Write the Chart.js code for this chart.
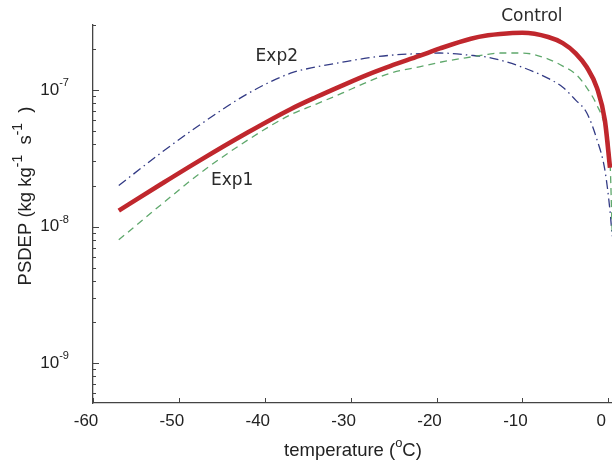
<!DOCTYPE html>
<html>
<head>
<meta charset="utf-8">
<script src="https://cdn.jsdelivr.net/npm/chart.js@4.4.1/dist/chart.umd.min.js"></script>
<style>
  html, body { margin: 0; padding: 0; background: #fff; overflow: hidden; }
  #wrap { width: 640px; height: 461px; }
</style>
</head>
<body>
<div id="wrap"><canvas id="chart" width="640" height="461"></canvas></div>
<script>
// temperature (°C) and PSDEP values
const temps   = [-57, -52, -47.5, -42, -37, -34, -31, -28, -25.4, -22, -19.6, -16, -14, -12.6, -10, -7, -5.3, -3.8, -2.5, -1.3, -0.4, 0.2, 0.45];
const control = [1.31e-8, 2.06e-8, 3.07e-8, 4.89e-8, 7.25e-8, 8.9e-8, 1.08e-7, 1.30e-7, 1.50e-7, 1.78e-7, 2.02e-7, 2.38e-7, 2.52e-7, 2.58e-7, 2.63e-7, 2.45e-7, 2.21e-7, 1.86e-7, 1.47e-7, 1.03e-7, 6.0e-8, 2.7e-8, null];
const exp1    = [8.0e-9, 1.46e-8, 2.47e-8, 4.3e-8, 6.6e-8, 7.9e-8, 9.5e-8, 1.15e-7, 1.33e-7, 1.48e-7, 1.6e-7, 1.75e-7, 1.83e-7, 1.87e-7, 1.87e-7, 1.69e-7, 1.50e-7, 1.31e-7, 1.04e-7, 7.7e-8, 5.4e-8, 3.0e-8, 9e-9];
const exp2    = [2.0e-8, 3.5e-8, 5.6e-8, 9.4e-8, 1.33e-7, 1.48e-7, 1.6e-7, 1.72e-7, 1.8e-7, 1.85e-7, 1.87e-7, 1.8e-7, 1.74e-7, 1.66e-7, 1.47e-7, 1.22e-7, 1.05e-7, 8.45e-8, 6.8e-8, 4.3e-8, 2.6e-8, 1.3e-8, 8.5e-9];

const xTicks = [-60, -50, -40, -30, -20, -10, 0];
const yMajor = [1e-9, 1e-8, 1e-7];
const yMajorExp = ['-9', '-8', '-7'];

// curve names, placed in data coordinates
const curveNames = ['Control', 'Exp1', 'Exp2'];
const curveNameAt = [[-8.9, 3.48e-7], [-43.8, 2.19e-8], [-38.6, 1.77e-7]];

const FONT = '"Liberation Sans", Arial, sans-serif';

function toPoints(ys) {
    return temps.map((t, i) => ({ x: t, y: ys[i] }));
}

// text with superscript pieces: parts = [[text, isSup], ...]
function richWidth(ctx, parts, size, supScale) {
    let w = 0;
    parts.forEach(p => {
        ctx.font = (p[1] ? size * supScale : size) + 'px ' + FONT;
        w += ctx.measureText(p[0]).width;
    });
    return w;
}
function drawRich(ctx, parts, x, y, size, align, supScale) {
    supScale = supScale || 0.65;
    const w = richWidth(ctx, parts, size, supScale);
    let cx = align === 'right' ? x - w : align === 'center' ? x - w / 2 : x;
    ctx.textBaseline = 'middle';
    ctx.textAlign = 'left';
    parts.forEach(p => {
        const s = p[1] ? size * supScale : size;
        ctx.font = s + 'px ' + FONT;
        ctx.fillText(p[0], cx, p[1] ? y - size * 0.42 : y);
        cx += ctx.measureText(p[0]).width;
    });
}

const extras = {
    id: 'extras',
    afterDraw(chart) {
        const ctx = chart.ctx;
        const xs = chart.scales.x, ys = chart.scales.y;
        ctx.save();
        ctx.strokeStyle = '#444';
        ctx.lineWidth = 1;
        // inward tick marks
        ys.ticks.forEach(t => {
            const py = Math.round(ys.getPixelForValue(t.value)) + 0.5;
            const lg = Math.log10(t.value);
            const len = Math.abs(lg - Math.round(lg)) < 1e-6 ? 6 : 3;
            ctx.beginPath();
            ctx.moveTo(ys.right, py);
            ctx.lineTo(ys.right + len, py);
            ctx.stroke();
        });
        xs.ticks.forEach(t => {
            const px = Math.round(xs.getPixelForValue(t.value)) + 0.5;
            ctx.beginPath();
            ctx.moveTo(px, xs.top);
            ctx.lineTo(px, xs.top - 5);
            ctx.stroke();
        });
        ctx.fillStyle = '#222';
        // y tick labels 10^n
        yMajor.forEach((v, i) => {
            drawRich(ctx, [['10', false], [yMajorExp[i], true]], ys.right - 24, ys.getPixelForValue(v), 17, 'right');
        });
        // axis titles
        drawRich(ctx, [['temperature (', false], ['o', true], ['C)', false]], 353, 451, 18.5, 'center', 0.7);
        ctx.save();
        ctx.translate(26, 196);
        ctx.rotate(-Math.PI / 2);
        drawRich(ctx, [['PSDEP (kg kg', false], ['-1', true], ['  s', false], ['-1', true], ['  )', false]], 0, 0, 18.5, 'center', 0.75);
        ctx.restore();
        // curve names
        ctx.font = '17px "DejaVu Sans", Verdana, sans-serif';
        ctx.fillStyle = '#2a2a2a';
        ctx.textAlign = 'center';
        ctx.textBaseline = 'middle';
        curveNames.forEach((n, i) => {
            ctx.fillText(n, xs.getPixelForValue(curveNameAt[i][0]), ys.getPixelForValue(curveNameAt[i][1]));
        });
        ctx.restore();
    }
};

const axisBorder = { display: true, color: '#444', width: 1.3 };

new Chart(document.getElementById('chart'), {
    type: 'line',
    data: {
        datasets: [
            {
                label: 'Control',
                data: toPoints(control),
                borderColor: '#c0272d',
                borderWidth: 4.6,
                pointRadius: 0,
                cubicInterpolationMode: 'monotone'
            },
            {
                label: 'Exp1',
                data: toPoints(exp1),
                borderColor: '#5fa86c',
                borderWidth: 1.3,
                borderDash: [7, 5],
                pointRadius: 0,
                cubicInterpolationMode: 'monotone'
            },
            {
                label: 'Exp2',
                data: toPoints(exp2),
                borderColor: '#333b85',
                borderWidth: 1.3,
                borderDash: [9, 4, 1.5, 4],
                pointRadius: 0,
                cubicInterpolationMode: 'monotone'
            }
        ]
    },
    options: {
        responsive: false,
        animation: false,
        layout: { padding: { top: 25, right: 27.4, left: 0, bottom: 0 } },
        plugins: { legend: { display: false }, tooltip: { enabled: false } },
        scales: {
            x: {
                type: 'linear',
                min: -60,
                max: 0.5,
                afterBuildTicks: s => { s.ticks = xTicks.map(v => ({ value: v })); },
                afterFit: s => { s.height = 58; },
                grid: { drawOnChartArea: false, drawTicks: false },
                border: axisBorder,
                ticks: {
                    padding: 8,
                    labelOffset: -7,
                    autoSkip: false,
                    maxRotation: 0,
                    color: '#222',
                    font: { family: FONT, size: 17 }
                }
            },
            y: {
                type: 'logarithmic',
                min: 5.1e-10,
                max: 3e-7,
                afterBuildTicks: s => {
                    s.ticks = s.ticks.filter(t => {
                        const e = Math.floor(Math.log10(t.value) + 1e-9);
                        const m = t.value / Math.pow(10, e);
                        return Math.abs(m - Math.round(m)) < 1e-6;
                    });
                },
                afterFit: s => { s.width = 93; },
                grid: { drawOnChartArea: false, drawTicks: false },
                border: axisBorder,
                ticks: { autoSkip: false, callback: () => '' }
            }
        }
    },
    plugins: [extras]
});
</script>
</body>
</html>
